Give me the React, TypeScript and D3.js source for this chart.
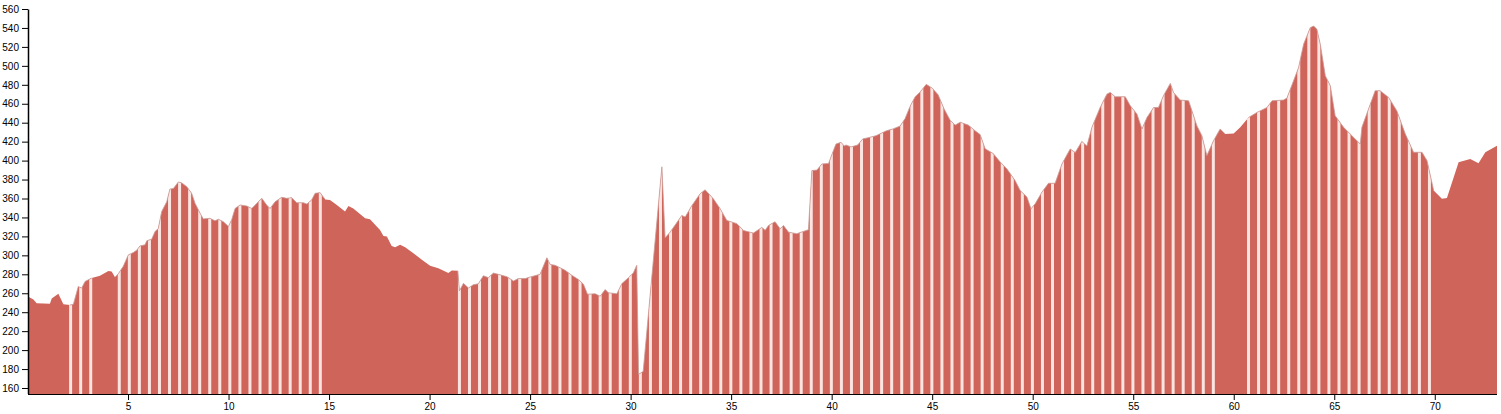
import React from "react";
import * as d3 from "d3";

// distance along route (km)
const distances = [
  0.0, 0.27, 0.43, 1.09, 1.18, 1.51, 1.76, 2.09, 2.26, 2.5, 2.67, 2.84, 3.17, 3.58, 4.0, 4.16, 4.33, 4.49,
  4.74, 4.99, 5.24, 5.41, 5.57, 5.82, 5.91, 6.15, 6.32, 6.48, 6.65, 6.9, 7.06, 7.23, 7.48, 7.65, 7.9, 8.14,
  8.31, 8.56, 8.72, 9.05, 9.3, 9.47, 9.72, 9.97, 10.13, 10.3, 10.55, 10.88, 11.13, 11.38, 11.63, 11.87,
  12.04, 12.29, 12.62, 12.87, 13.12, 13.37, 13.7, 13.87, 14.11, 14.28, 14.53, 14.78, 15.02, 15.36, 15.77,
  15.94, 16.18, 16.77, 17.01, 17.51, 17.68, 17.85, 18.09, 18.26, 18.51, 18.76, 19.17, 19.59, 20.0, 20.41,
  20.91, 21.08, 21.38, 21.46, 21.66, 21.91, 22.15, 22.4, 22.65, 22.9, 23.15, 23.48, 23.82, 24.15, 24.39,
  24.73, 24.98, 25.47, 25.81, 25.97, 26.22, 26.72, 27.05, 27.38, 27.63, 27.83, 28.21, 28.46, 28.71, 28.87,
  29.29, 29.54, 29.87, 30.11, 30.28, 30.37, 30.6, 31.53, 31.69, 31.94, 32.52, 32.69, 33.02, 33.43, 33.68,
  34.1, 34.43, 34.76, 35.26, 35.59, 36.08, 36.5, 36.67, 36.83, 37.16, 37.41, 37.58, 37.83, 38.24, 38.82,
  38.99, 39.24, 39.49, 39.82, 40.06, 40.19, 40.44, 40.6, 40.69, 40.94, 41.27, 41.52, 41.85, 42.18, 42.7,
  43.03, 43.38, 43.63, 43.88, 44.13, 44.38, 44.68, 44.98, 45.27, 45.57, 45.87, 46.12, 46.37, 46.77, 47.11,
  47.36, 47.61, 48.01, 48.36, 48.69, 49.1, 49.35, 49.69, 49.89, 50.1, 50.43, 50.76, 51.09, 51.43, 51.84,
  52.09, 52.42, 52.67, 52.92, 53.33, 53.67, 53.83, 54.08, 54.58, 54.83, 55.16, 55.41, 55.66, 55.99, 56.23,
  56.48, 56.82, 56.98, 57.31, 57.73, 58.14, 58.39, 58.64, 58.97, 59.3, 59.55, 59.97, 60.3, 60.71, 61.13,
  61.63, 61.88, 62.45, 62.62, 62.95, 63.2, 63.45, 63.78, 63.95, 64.11, 64.28, 64.53, 64.78, 65.02, 65.44,
  65.94, 66.27, 66.35, 66.77, 67.01, 67.26, 67.68, 68.09, 68.51, 68.92, 69.34, 69.59, 69.92, 70.33, 70.58,
  71.16, 71.74, 72.15, 72.49, 73.07,
];

// elevation (m)
const elevations = [
  257, 254, 250, 249.5, 255, 260, 249, 248, 249, 267.6, 266, 273, 276.5, 279, 284, 283.5, 277.5, 281,
  289, 301, 303.5, 306, 310.5, 311.6, 316, 317.5, 325.6, 329, 346.7, 357, 370.5, 371, 378, 377, 373, 366,
  355.4, 345, 339, 339.6, 337, 338.6, 336, 331, 338, 350, 353.7, 352.6, 350, 355.4, 360.7, 353.7,
  350, 357, 361.8, 360.7, 361.4, 356, 356, 354.7, 359, 366, 366.7, 359.6, 359, 353.7, 346.7,
  352.6, 350, 339.6, 338.6, 327.4, 321, 320.4, 310.5, 309, 311.6, 309, 302.8, 295.8, 289.5, 287,
  281.8, 284.6, 284.2, 263, 271, 266, 269.5, 270.5, 279, 277, 281.8, 280, 278, 273.5, 276,
  276, 277.7, 280.5, 298, 291, 290, 284.7, 279.5, 275, 270, 259.5, 260, 257.4, 264.4, 261,
  260, 270.7, 277, 282, 290, 175, 178, 394, 319, 325, 342.6, 341, 353, 365.5, 369.7,
  360, 349.7, 337.4, 334, 326.8, 324, 330, 327, 332, 336, 328.6, 332, 325, 323.4, 327.6,
  390, 390.5, 397, 397.5, 411, 418, 419.8, 416, 417, 415, 417, 423.4, 425, 426.8, 432,
  434, 437, 445, 458, 468, 473, 481, 477, 470, 455, 443, 438, 441, 438, 432,
  428, 413, 408, 399, 391.8, 379.5, 369, 362, 349.7, 355, 367, 376.6, 376.6, 397, 412.8,
  409, 420.8, 416, 435.6, 456.6, 470.7, 472.5, 467.9, 467.9, 458.4, 449.7, 433.9, 446, 456.6, 456.6,
  469, 482, 472.4, 464.4, 463.7, 437.4, 426.8, 405.8, 421.6, 433.9, 428.6, 429, 435.6, 446, 451.4,
  456.6, 463.7, 464.4, 466.5, 484.7, 498.7, 523.4, 540.8, 542.6, 539.2, 523.4, 490, 479.5, 447.9, 435.6,
  425, 418, 435.6, 460.2, 474.2, 474.2, 467.2, 453, 428.6, 409.3, 409.3, 400.5, 369, 360.2, 361,
  398.8, 402.3, 397.7, 409.3, 416.3,
];

// striped (segmented) stretches of the route, km
const stripeStarts = [2.12, 4.54, 21.46, 60.71];
const stripeEnds = [3.13, 14.55, 59.35, 69.93];
const stripeStep = 0.5;

const yTicks = d3.range(160, 561, 20);
const xTicks = d3.range(5, 71, 5);

const W = 1501;
const H = 414;
const left = 28;
const right = 1497;
const top = 9.5;
const bottom = 394;

export default function App() {
  const x = d3.scaleLinear().domain([0, 73.07]).range([left, right]);
  const y = d3.scaleLinear().domain([154.2, 560]).range([bottom, top]);
  const pts = distances.map((d, i) => [d, elevations[i]] as [number, number]);
  const area = d3
    .area<[number, number]>()
    .x((d) => x(d[0]))
    .y0(bottom)
    .y1((d) => y(d[1]));
  const line = d3
    .line<[number, number]>()
    .x((d) => x(d[0]))
    .y((d) => y(d[1]));

  const stripes: number[] = [];
  stripeStarts.forEach((s, i) => {
    for (let k = s; k <= stripeEnds[i] + 1e-6; k += stripeStep) stripes.push(k);
  });

  const outlines = stripeStarts.map((s, i) =>
    line(pts.filter((p) => p[0] >= s - 0.3 && p[0] <= stripeEnds[i] + 0.3))
  );

  const font = "'Liberation Sans', Arial, sans-serif";

  return (
    <svg
      width={W}
      height={H}
      style={{ position: "absolute", left: 0, top: 0 }}
      fontFamily={font}
      fontSize={10}
    >
      <defs>
        <clipPath id="areaClip">
          <path d={area(pts) || ""} />
        </clipPath>
      </defs>
      <path d={area(pts) || ""} fill="#cf645a" />
      <g clipPath="url(#areaClip)">
        {stripes.map((k, i) => (
          <rect key={i} x={x(k) - 1.5} y={top} width={3} height={bottom - top} fill="#fce4e1" />
        ))}
      </g>
      {outlines.map((d, i) => (
        <path key={i} d={d || ""} fill="none" stroke="#c99a96" strokeWidth={0.8} strokeLinejoin="round" />
      ))}
      {/* y axis */}
      <g>
        <line x1={left + 0.5} x2={left + 0.5} y1={top} y2={bottom} stroke="#000" strokeWidth={1.5} />
        {yTicks.map((t) => (
          <g key={t} transform={`translate(0,${y(t)})`}>
            <line x1={left - 6} x2={left} stroke="#000" />
            <text x={left - 9} dy="0.32em" textAnchor="end" fill="#000">
              {t}
            </text>
          </g>
        ))}
      </g>
      {/* x axis */}
      <g>
        <line x1={left} x2={right} y1={bottom + 0.5} y2={bottom + 0.5} stroke="#000" />
        {xTicks.map((t) => (
          <g key={t} transform={`translate(${x(t)},0)`}>
            <line y1={bottom} y2={bottom + 6} stroke="#000" />
            <text y={bottom + 9} dy="0.71em" textAnchor="middle" fill="#000">
              {t}
            </text>
          </g>
        ))}
      </g>
    </svg>
  );
}
